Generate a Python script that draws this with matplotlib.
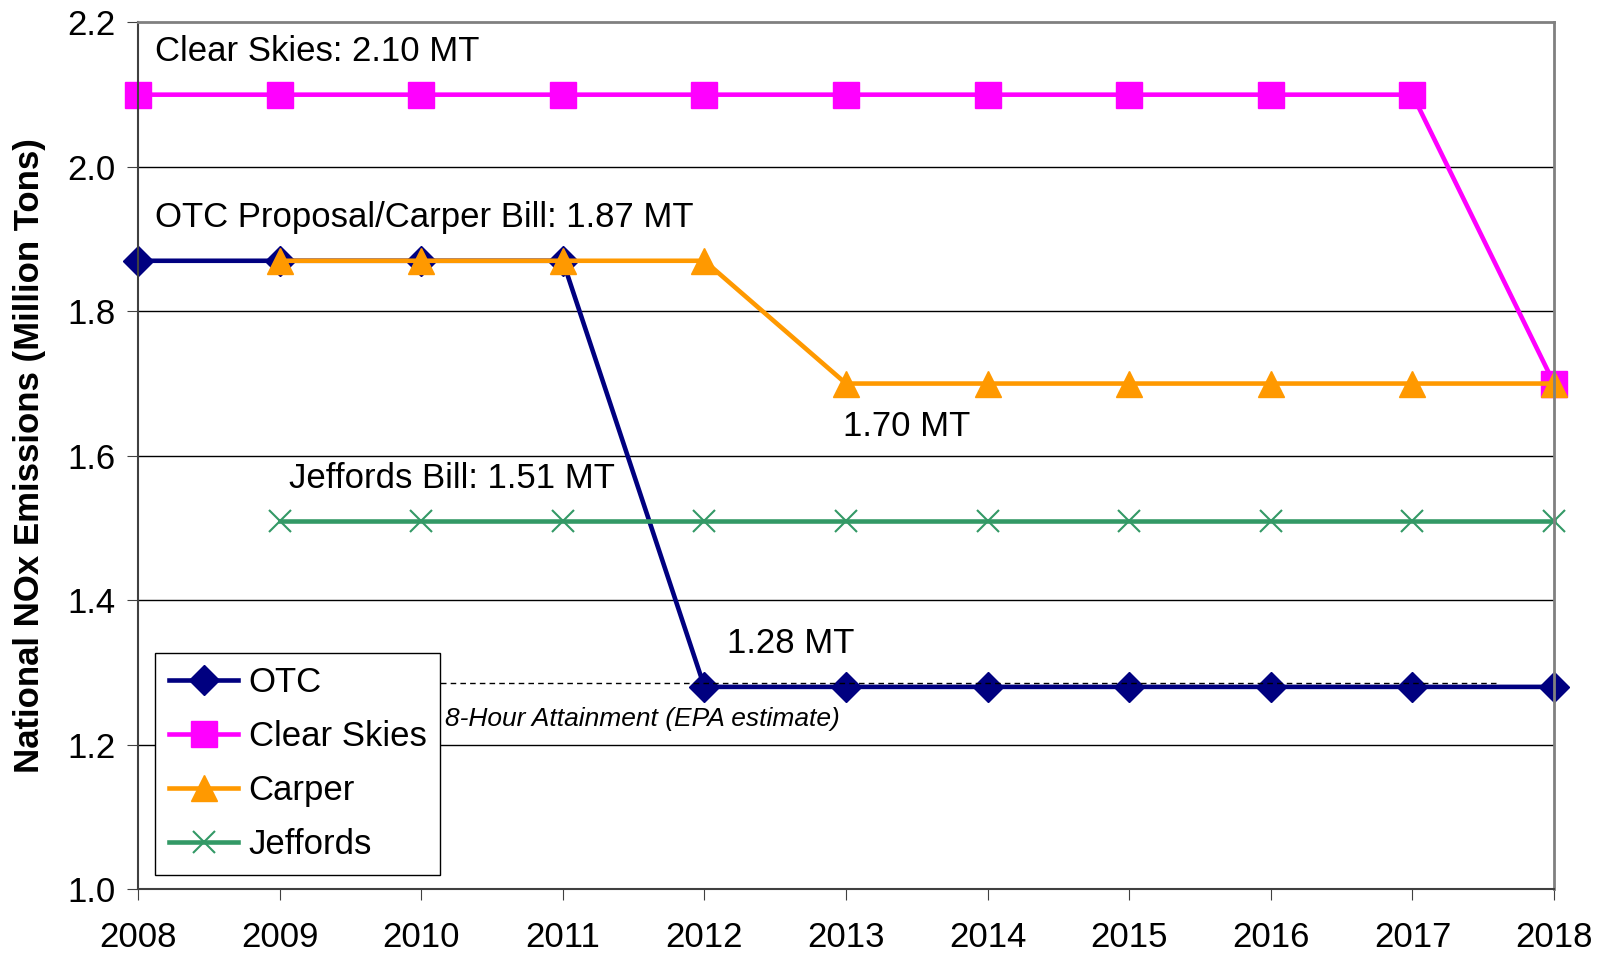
import matplotlib
matplotlib.use("Agg")
import matplotlib.pyplot as plt
import numpy as np

plt.rcParams['font.family'] = ['Liberation Sans', 'DejaVu Sans']

years = [2008, 2009, 2010, 2011, 2012, 2013, 2014, 2015, 2016, 2017, 2018]
otc = [1.87, 1.87, 1.87, 1.87, 1.28, 1.28, 1.28, 1.28, 1.28, 1.28, 1.28]
clear_skies = [2.10, 2.10, 2.10, 2.10, 2.10, 2.10, 2.10, 2.10, 2.10, 2.10, 1.70]
carper = [np.nan, 1.87, 1.87, 1.87, 1.87, 1.70, 1.70, 1.70, 1.70, 1.70, 1.70]
jeffords = [np.nan, 1.51, 1.51, 1.51, 1.51, 1.51, 1.51, 1.51, 1.51, 1.51, 1.51]

attain_level = 1.286
attain_span = [2010.0, 2017.6]

fig = plt.figure(figsize=(16.02, 9.55), dpi=100)
ax = fig.add_axes([0.0861, 0.069, 0.884, 0.9075])

ax.plot(years, otc, color='#000080', lw=3.3, marker='D', ms=15, label='OTC', clip_on=False)
ax.plot(years, clear_skies, color='#FF00FF', lw=3.3, marker='s', ms=19, label='Clear Skies', clip_on=False)
ax.plot(years, carper, color='#FF9900', lw=3.3, marker='^', ms=19, label='Carper', clip_on=False)
ax.plot(years, jeffords, color='#339966', lw=3.3, marker='x', ms=16, mew=1.5, label='Jeffords', clip_on=False)

# 8-hour attainment reference
ax.plot(attain_span, [attain_level, attain_level], color='black', lw=1, ls=(0, (4, 3)))

ax.set_xlim(2008, 2018)
ax.set_ylim(1.0, 2.2)
ax.set_xticks(years)
ax.set_yticks(np.arange(1.0, 2.21, 0.2))
ax.yaxis.set_major_formatter(matplotlib.ticker.FormatStrFormatter('%.1f'))
ax.tick_params(axis='both', labelsize=25, length=8, color='#404040')
ax.tick_params(axis='x', pad=15)
ax.tick_params(axis='y', pad=8)

for y in [1.2, 1.4, 1.6, 1.8, 2.0]:
    ax.axhline(y, color='black', lw=1, zorder=0)

for side in ['top', 'right']:
    ax.spines[side].set_color('#808080')
    ax.spines[side].set_linewidth(2)
for side in ['left', 'bottom']:
    ax.spines[side].set_color('#404040')
    ax.spines[side].set_linewidth(1.5)

ax.set_ylabel('National NOx Emissions (Million Tons)', fontsize=25, fontweight='bold')
ax.yaxis.set_label_coords(-0.065, 0.5)

fs = 25
ax.text(2008.12, 2.16, 'Clear Skies: 2.10 MT', fontsize=fs, va='center')
ax.text(2008.12, 1.93, 'OTC Proposal/Carper Bill: 1.87 MT', fontsize=fs, va='center')
ax.text(2012.98, 1.64, '1.70 MT', fontsize=fs, va='center')
ax.text(2009.07, 1.569, 'Jeffords Bill: 1.51 MT', fontsize=fs, va='center')
ax.text(2012.16, 1.34, '1.28 MT', fontsize=fs, va='center')
ax.text(2010.17, 1.235, '8-Hour Attainment (EPA estimate)', fontsize=19, style='italic', va='center')

leg = ax.legend(loc='lower left', bbox_to_anchor=(0.012, 0.0165), fontsize=25, frameon=True,
                fancybox=False, edgecolor='black', framealpha=1, borderpad=0.4,
                handlelength=2.0, handletextpad=0.3, labelspacing=0.6, borderaxespad=0)
leg.get_frame().set_linewidth(1)

fig.savefig('out.png', dpi=100)
